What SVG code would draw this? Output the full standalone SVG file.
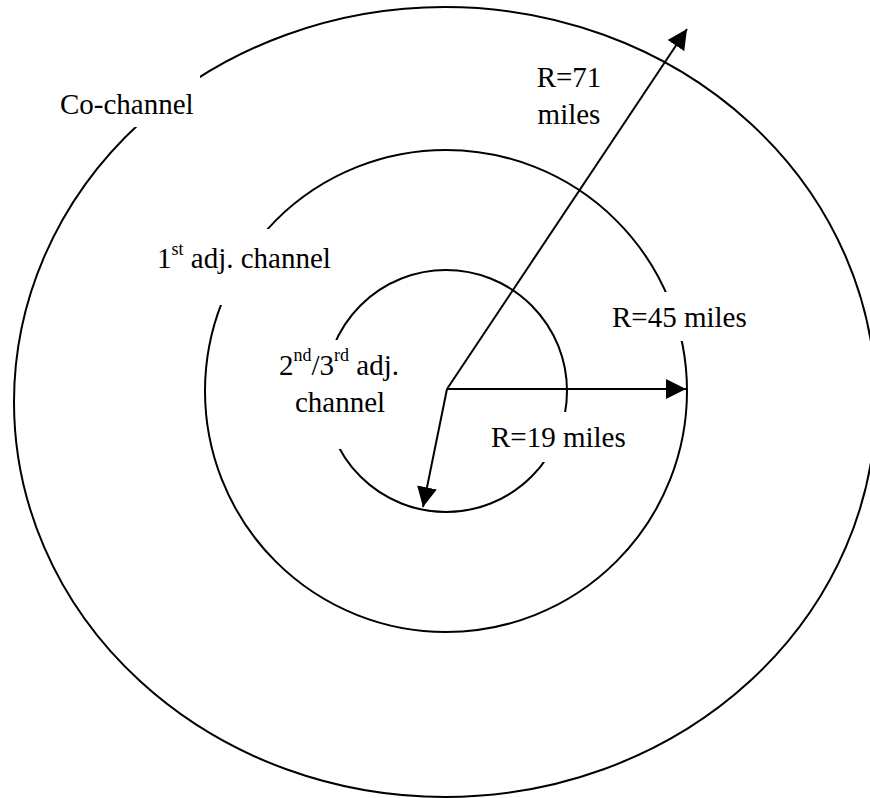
<svg xmlns="http://www.w3.org/2000/svg" width="870" height="798" viewBox="0 0 870 798">
  <style>
    .ring { fill: none; stroke: #000; stroke-width: 2; }
    .box { fill: #fff; stroke: none; }
    .lbl { font-family: "Liberation Serif", "Times New Roman", serif; font-size: 29px; fill: #000; }
    .sup { font-size: 18px; }
    .arrow { fill: none; stroke: #000; stroke-width: 2; marker-end: url(#head); }
  </style>
  <defs>
    <marker id="head" markerUnits="userSpaceOnUse" markerWidth="20" markerHeight="20" refX="20" refY="10" orient="auto">
      <path d="M0,0 L20,10 L0,20 z" fill="#000"/>
    </marker>
  </defs>
  <rect width="870" height="798" fill="#fff"/>

  <g id="ring-outer"><ellipse class="ring" cx="445" cy="402" rx="431" ry="395"/></g>
  <g id="ring-middle"><circle class="ring" cx="446" cy="391" r="241"/></g>
  <g id="ring-inner"><circle class="ring" cx="446" cy="391" r="121"/></g>

  <g id="label-cochannel">
    <rect class="box" x="50" y="75" width="150" height="52"/>
    <text class="lbl" x="60" y="114">Co-channel</text>
  </g>
  <g id="label-1st">
    <rect class="box" x="150" y="229" width="190" height="76"/>
    <text class="lbl" x="157" y="268">1<tspan class="sup" dy="-13">st</tspan><tspan dy="13"> adj. channel</tspan></text>
  </g>
  <g id="label-2nd3rd">
    <rect class="box" x="270" y="340" width="150" height="109"/>
    <text class="lbl" x="279" y="375">2<tspan class="sup" dy="-14">nd</tspan><tspan dy="14">/3</tspan><tspan class="sup" dy="-14">rd</tspan><tspan dy="14"> adj.</tspan></text>
    <text class="lbl" x="295" y="412">channel</text>
  </g>
  <g id="label-r71">
    <text class="lbl" x="569" y="87" text-anchor="middle">R=71</text>
    <text class="lbl" x="569" y="124" text-anchor="middle">miles</text>
  </g>
  <g id="label-r45">
    <rect class="box" x="605" y="292" width="150" height="49"/>
    <text class="lbl" x="612" y="327">R=45 miles</text>
  </g>
  <g id="label-r19">
    <rect class="box" x="482" y="412" width="152" height="50"/>
    <text class="lbl" x="491" y="447">R=19 miles</text>
  </g>

  <g id="connectors">
    <line class="arrow" x1="447" y1="389" x2="687" y2="29"/>
    <line class="arrow" x1="447" y1="389" x2="686" y2="389"/>
    <line class="arrow" x1="447" y1="389" x2="423" y2="507"/>
  </g>
</svg>
